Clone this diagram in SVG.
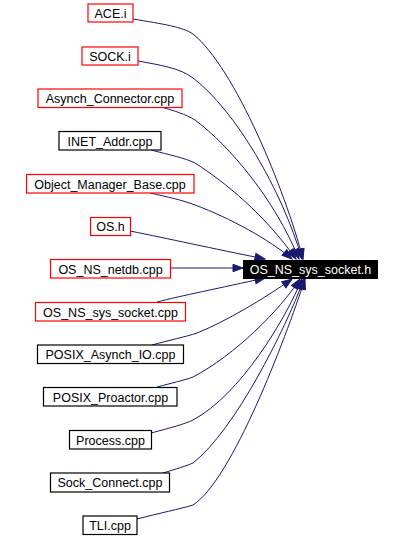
<svg xmlns="http://www.w3.org/2000/svg" width="401" height="537" viewBox="0 0 401 537">
<style>
text{font-family:"Liberation Sans",Arial,sans-serif;font-size:12.5px;text-anchor:middle;fill:#000}
.n rect{fill:#fff;stroke-width:1.2}
.r rect{stroke:#ff0000}
.k rect{stroke:#000}
.e path{fill:none;stroke:#191970;stroke-width:1}
</style>
<defs>
<marker id="ah" markerUnits="userSpaceOnUse" markerWidth="12" markerHeight="10" viewBox="0 0 12 10" refX="11" refY="5" orient="auto">
<path d="M1,1.3 L11,5 L1,8.7 Z" fill="#191970" stroke="#191970"/>
</marker>
</defs>
<rect width="401" height="537" fill="#fff"/>
<g id="edges" class="e">
<path marker-end="url(#ah)" d="M133,19 C163,24 183,27 193,34 C235,68 285,190 303,259"/>
<path marker-end="url(#ah)" d="M138,61 C160,65 180,68 193,78 C235,110 282,190 302,259"/>
<path marker-end="url(#ah)" d="M161,107 C175,111 185,114 195,120 C230,146 275,200 299,259"/>
<path marker-end="url(#ah)" d="M151,150 C170,155 185,158 195,163 C225,182 265,215 296,259"/>
<path marker-end="url(#ah)" d="M150,193 C168,197 182,200 195,205 C230,218 270,240 292,259"/>
<path marker-end="url(#ah)" d="M130,231 C170,239 210,248 265,259"/>
<path marker-end="url(#ah)" d="M170,268 L243,268"/>
<path marker-end="url(#ah)" d="M157,302 C180,296 220,288 265,278"/>
<path marker-end="url(#ah)" d="M152,345 C170,340 185,337 197,333 C225,322 265,298 292,279"/>
<path marker-end="url(#ah)" d="M157,387 C172,383 185,380 193,377 C235,355 280,310 300,279"/>
<path marker-end="url(#ah)" d="M151,433 C170,428 185,424 193,420 C240,395 285,320 302,279"/>
<path marker-end="url(#ah)" d="M163,473 C176,469 186,466 193,463 C235,430 285,330 304,279"/>
<path marker-end="url(#ah)" d="M137,519 C160,513 180,509 193,505 C232,480 285,340 305,279"/>
</g>
<g id="target"><rect x="243" y="260" width="135" height="19" fill="#000"/><text x="310.5" y="274" style="fill:#fff">OS_NS_sys_socket.h</text></g>
<g id="n1" class="n r"><rect x="88" y="4" width="45" height="18"/><text x="110.5" y="17.5">ACE.i</text></g>
<g id="n2" class="n r"><rect x="82" y="47" width="56" height="18"/><text x="110" y="60.5">SOCK.i</text></g>
<g id="n3" class="n r"><rect x="38" y="89" width="144" height="18.5"/><text x="110" y="103">Asynch_Connector.cpp</text></g>
<g id="n4" class="n k"><rect x="59" y="131.5" width="102" height="18.5"/><text x="110" y="145.5">INET_Addr.cpp</text></g>
<g id="n5" class="n r"><rect x="26.5" y="174.5" width="167.5" height="18.5"/><text x="110" y="188.5">Object_Manager_Base.cpp</text></g>
<g id="n6" class="n r"><rect x="90.5" y="217.5" width="40" height="18"/><text x="110.5" y="231">OS.h</text></g>
<g id="n7" class="n r"><rect x="50.5" y="259.5" width="120" height="18.5"/><text x="110.5" y="273.5">OS_NS_netdb.cpp</text></g>
<g id="n8" class="n r"><rect x="35.5" y="302.5" width="150" height="18.5"/><text x="110.5" y="316.5">OS_NS_sys_socket.cpp</text></g>
<g id="n9" class="n k"><rect x="37.5" y="345" width="146" height="18.5"/><text x="110.5" y="359">POSIX_Asynch_IO.cpp</text></g>
<g id="n10" class="n k"><rect x="43.5" y="387.5" width="133.5" height="18.5"/><text x="110.5" y="401.5">POSIX_Proactor.cpp</text></g>
<g id="n11" class="n k"><rect x="69.5" y="430.5" width="82" height="18.5"/><text x="110.5" y="444.5">Process.cpp</text></g>
<g id="n12" class="n k"><rect x="50.5" y="473" width="119" height="19"/><text x="110" y="487">Sock_Connect.cpp</text></g>
<g id="n13" class="n k"><rect x="83" y="516" width="54" height="18.5"/><text x="110" y="530">TLI.cpp</text></g>
</svg>
